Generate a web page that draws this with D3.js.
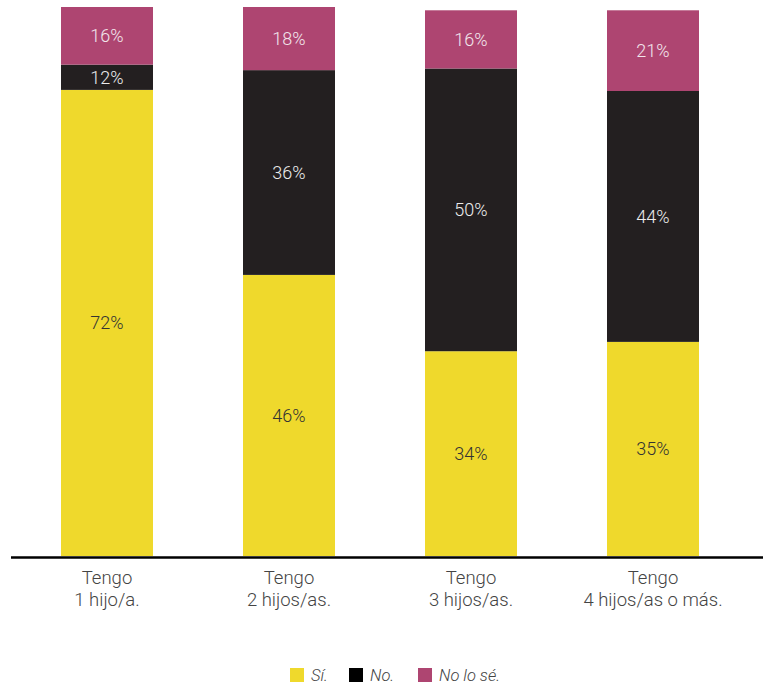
<!DOCTYPE html>
<html>
<head>
<meta charset="utf-8">
<script src="https://cdn.jsdelivr.net/npm/d3@7/dist/d3.min.js"></script>
<style>
  html, body { margin: 0; padding: 0; background: #fff; }
  svg { display: block; }
</style>
</head>
<body>
<script>
// Categories (two-line labels)
const categories = ["Tengo\n1 hijo/a.", "Tengo\n2 hijos/as.", "Tengo\n3 hijos/as.", "Tengo\n4 hijos/as o más."];
// Series names
const seriesNames = ["Sí.", "No.", "No lo sé."];
// Segment heights as drawn in the picture (share of axis)
const siValues     = [84.9, 51.2, 37.3, 39.0];
const noValues     = [4.6, 37.3, 51.5, 45.7];
const noLoSeValues = [10.5, 11.5, 10.6, 14.7];
// Printed percentage labels
const siLabels     = ["72%", "46%", "34%", "35%"];
const noLabels     = ["12%", "36%", "50%", "44%"];
const noLoSeLabels = ["16%", "18%", "16%", "21%"];

const colors = ["#EFD92C", "#231F20", "#AE4571"];
const labelColors = ["#333333", "#ECECEC", "#F2E6EC"];

const W = 763, H = 688;
const svg = d3.select("body").append("svg").attr("width", W).attr("height", H);

const x = d3.scaleBand().domain(categories).range([15.5, 744.5])
  .paddingInner(90 / 182).paddingOuter(0.25);
const y = d3.scaleLinear().domain([0, 100]).range([556, 7]);

const rows = categories.map((c, i) => ({
  cat: c,
  vals: [siValues[i], noValues[i], noLoSeValues[i]],
  labels: [siLabels[i], noLabels[i], noLoSeLabels[i]]
}));

const font = "Roboto, 'Liberation Sans', Arial, sans-serif";
const weight = 300;

rows.forEach(r => {
  let acc = 0;
  r.vals.forEach((v, k) => {
    const y0 = y(acc), y1 = y(acc + v);
    svg.append("rect")
      .attr("x", x(r.cat)).attr("width", x.bandwidth())
      .attr("y", y1).attr("height", y0 - y1)
      .attr("fill", colors[k]);
    svg.append("text")
      .attr("x", x(r.cat) + x.bandwidth() / 2)
      .attr("y", (y0 + y1) / 2)
      .attr("dy", "0.36em")
      .attr("text-anchor", "middle")
      .attr("font-family", font)
      .attr("font-weight", weight)
      .attr("font-size", 18)
      .attr("fill", labelColors[k])
      .text(r.labels[k]);
    acc += v;
  });
});

// Baseline axis
const axis = d3.axisBottom(x).tickSize(0).tickFormat("");
const gAxis = svg.append("g").attr("transform", "translate(0,557.5)").call(axis);
gAxis.select(".domain").remove();
gAxis.append("line").attr("x1", 11).attr("x2", 763).attr("y1", 0).attr("y2", 0)
  .attr("stroke", "#000").attr("stroke-width", 2.5);

// Category labels
categories.forEach(c => {
  const t = svg.append("text")
    .attr("text-anchor", "middle")
    .attr("font-family", font)
    .attr("font-weight", weight)
    .attr("font-size", 18.5)
    .attr("fill", "#444");
  c.split("\n").forEach((line, j) => {
    t.append("tspan").attr("x", x(c) + x.bandwidth() / 2)
      .attr("y", 584 + j * 22).text(line);
  });
});

// Legend
const legendX = [290, 349, 418];
const lg = svg.append("g");
seriesNames.forEach((n, k) => {
  lg.append("rect").attr("x", legendX[k]).attr("y", 668).attr("width", 14).attr("height", 14)
    .attr("fill", k === 1 ? "#000" : colors[k]);
  lg.append("text").attr("x", legendX[k] + 21).attr("y", 681)
    .attr("font-family", font).attr("font-weight", weight)
    .attr("font-size", 16.5).attr("font-style", "italic")
    .attr("fill", "#444").text(n);
});
</script>
</body>
</html>
